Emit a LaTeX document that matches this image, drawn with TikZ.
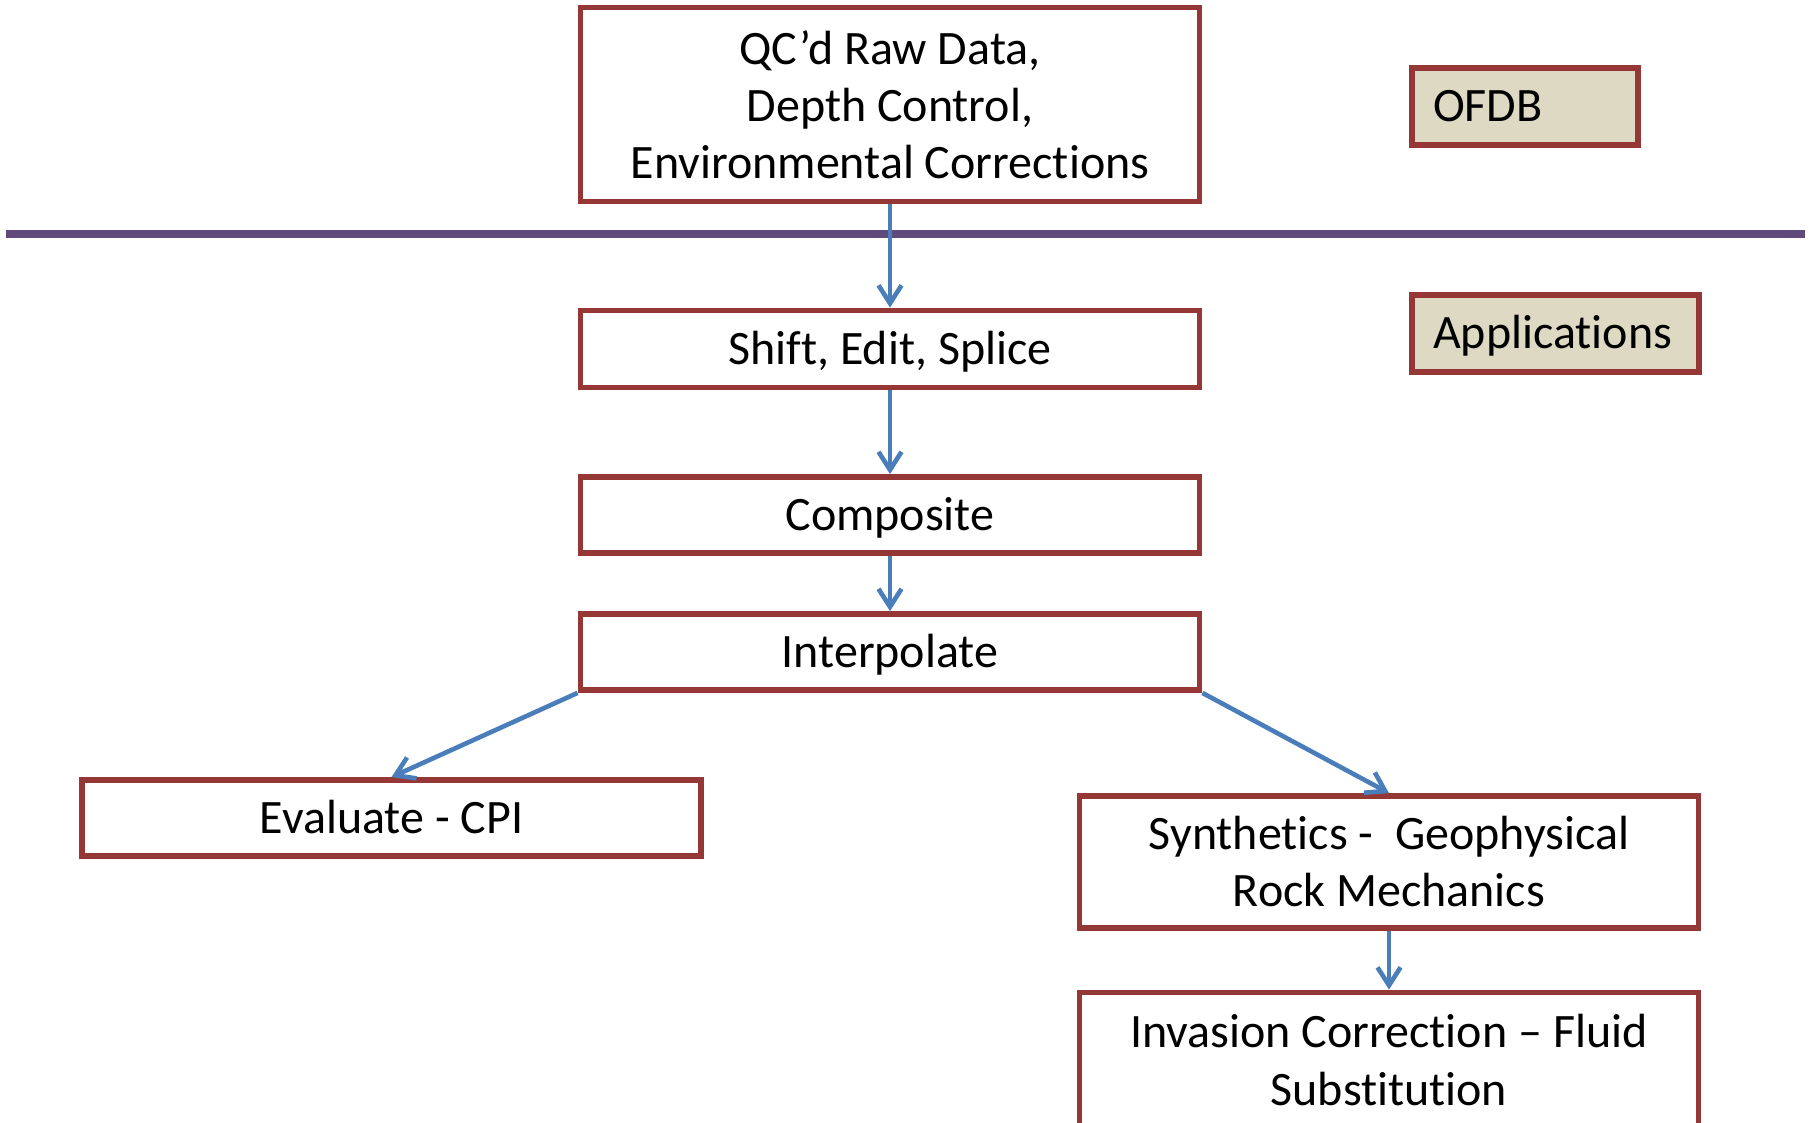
\documentclass[tikz,border=0pt]{standalone}
\usepackage{fontspec}
\setmainfont{Carlito}[Ligatures=NoCommon]
\usetikzlibrary{arrows.meta}
\definecolor{boxred}{HTML}{953735}
\definecolor{tanfill}{HTML}{DDD9C3}
\definecolor{sepline}{HTML}{604A7B}
\definecolor{arrowblue}{HTML}{4A7EBB}
\begin{document}
\begin{tikzpicture}[x=0.5pt,y=-0.5pt,
  every node/.style={font=\fontsize{24pt}{28.5pt}\selectfont},
  wbox/.style={draw=boxred, line width=2.9pt, fill=white, minimum width=309.5pt, inner sep=0pt, align=center},
  oneline/.style={text height=15.2pt, text depth=0pt},
  tbox/.style={draw=boxred, line width=3.1pt, fill=tanfill, inner xsep=10.5pt, inner ysep=0pt, text height=15.2pt, text depth=0pt, align=left, minimum height=38.5pt},
  flow/.style={draw=arrowblue, line width=2.3pt, -{Straight Barb[length=9pt,width=11.5pt]}}
]
\useasboundingbox (0,0) rectangle (1814,1123);
\fill[white] (0,0) rectangle (1814,1123);
\coordinate (sepL) at (6,234);
\coordinate (sepR) at (1805,234);
\draw[sepline, line width=3.8pt] (sepL) -- (sepR);

\node[wbox, minimum height=97pt] (raw) at (890,104.5) {QC’d Raw Data,\\Depth Control,\\Environmental Corrections};
\node[tbox, text width=92pt] (ofdb) at (1525,106.5) {OFDB};
\node[tbox, text width=122.5pt] (apps) at (1555.5,333.5) {Applications};
\node[wbox, oneline, minimum height=38.5pt] (shift) at (890,349) {Shift, Edit, Splice};
\node[wbox, oneline, minimum height=38pt] (comp) at (890,515) {Composite};
\node[wbox, oneline, minimum height=38pt] (interp) at (890,652) {Interpolate};
\node[wbox, oneline, minimum height=38pt] (eval) at (391.5,818) {Evaluate - CPI};
\node[wbox, minimum height=66pt] (synth) at (1389,862) {Synthetics -~ Geophysical\\Rock Mechanics};
\node[wbox, minimum height=67.5pt] (inv) at (1389,1060) {Invasion Correction – Fluid\\Substitution};

\draw[flow] (raw.south) -- (shift.north);
\draw[flow] (shift.south) -- (comp.north);
\draw[flow] (comp.south) -- (interp.north);
\draw[flow] (interp.south west) -- (eval.north);
\draw[flow] (interp.south east) -- (synth.north);
\draw[flow] (synth.south) -- (inv.north);
\end{tikzpicture}
\end{document}
